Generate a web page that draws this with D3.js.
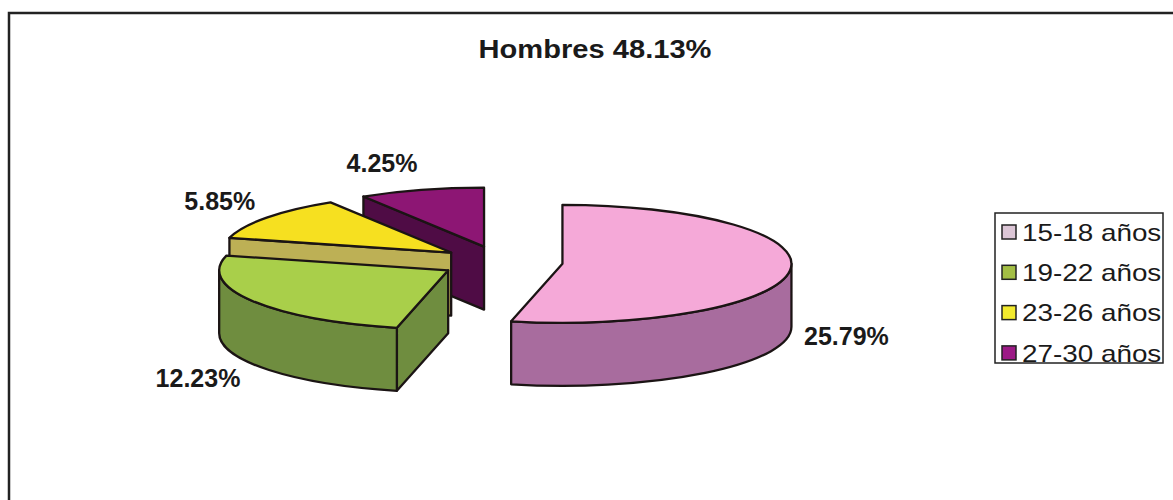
<!DOCTYPE html>
<html>
<head>
<meta charset="utf-8">
<script src="https://cdn.jsdelivr.net/npm/d3@7"></script>
<style>
  body { margin: 0; background: #fff; }
  svg text { font-family: "Liberation Sans", Arial, sans-serif; fill: #1a1a1a; }
</style>
</head>
<body>
<div id="chart"></div>
<script>
// data
const title = "Hombres 48.13%";
const categories = ["15-18 años", "19-22 años", "23-26 años", "27-30 años"];
const values = [25.79, 12.23, 5.85, 4.25];
const labels = ["25.79%", "12.23%", "5.85%", "4.25%"];

const topColors  = ["#f5a9d8", "#a9cf4a", "#f6e020", "#8d1674"];
const sideColors = ["#a86c9e", "#6f8d3f", "#bdb055", "#4f0c45"];
const keyColors  = ["#dcc6d6", "#a3be45", "#f2ea2e", "#9c1a86"];

const w = 1173, h = 500;
const cx = 501, cy = 262;      // pie centre
const rx = 229, ry = 59;       // ellipse radii of the top face
const depth = 63;              // thickness of the pie
const explode = 0.27;          // fraction of radius each slice is pulled out

const svg = d3.select("#chart").append("svg")
    .attr("width", w)
    .attr("height", h);

// outer frame (runs off the right and bottom like the scan)
svg.append("rect")
    .attr("x", 9).attr("y", 13)
    .attr("width", 1200).attr("height", 520)
    .attr("fill", "#fff")
    .attr("stroke", "#222")
    .attr("stroke-width", 2.5);

svg.append("text")
    .attr("transform", "translate(595,58) scale(1.12,1)")
    .attr("text-anchor", "middle")
    .attr("font-size", 26)
    .attr("font-weight", "bold")
    .text(title);

const pie = d3.pie().sort(null).value(d => d)(values);

function pt(c, a, s) {
    s = s || 1;
    return [c[0] + rx * s * Math.sin(a), c[1] - ry * s * Math.cos(a)];
}
function down(p) { return [p[0], p[1] + depth]; }
function f(p) { return p[0].toFixed(2) + "," + p[1].toFixed(2); }

let slices = pie.map((d, i) => {
    let mid = (d.startAngle + d.endAngle) / 2;
    let c = [cx + explode * rx * Math.sin(mid), cy - explode * ry * Math.cos(mid)];
    return {d: d, i: i, mid: mid, c: c};
});

// back slices first
slices.sort((a, b) => a.c[1] - b.c[1]);

const g = svg.append("g")
    .attr("stroke", "#1b1414")
    .attr("stroke-width", 2.3)
    .attr("stroke-linejoin", "round");

slices.forEach(s => {
    let a0 = s.d.startAngle, a1 = s.d.endAngle;
    let c = s.c;

    // cut faces that turn towards the viewer
    [[a0, Math.sin(a0) < -1e-6], [a1, Math.sin(a1) > 1e-6]].forEach(([a, vis]) => {
        if (!vis) return;
        let p = pt(c, a);
        g.append("path")
            .attr("d", "M" + f(c) + "L" + f(p) + "L" + f(down(p)) + "L" + f(down(c)) + "Z")
            .attr("fill", sideColors[s.i]);
    });

    // outer wall, only the part facing front (pi/2 .. 3pi/2)
    let b0 = Math.max(a0, Math.PI / 2), b1 = Math.min(a1, 3 * Math.PI / 2);
    if (b1 > b0) {
        let p0 = pt(c, b0), p1 = pt(c, b1);
        let large = (b1 - b0) > Math.PI ? 1 : 0;
        g.append("path")
            .attr("d", "M" + f(p0) +
                "A" + rx + "," + ry + " 0 " + large + " 1 " + f(p1) +
                "L" + f(down(p1)) +
                "A" + rx + "," + ry + " 0 " + large + " 0 " + f(down(p0)) + "Z")
            .attr("fill", sideColors[s.i]);
    }

    // top face
    let p0 = pt(c, a0), p1 = pt(c, a1);
    let large = (a1 - a0) > Math.PI ? 1 : 0;
    g.append("path")
        .attr("d", "M" + f(c) + "L" + f(p0) +
            "A" + rx + "," + ry + " 0 " + large + " 1 " + f(p1) + "Z")
        .attr("fill", topColors[s.i]);
});

// data labels outside the slices, the near edge of the text sits on a wider ellipse
const lrx = 305, lry = 103;
pie.forEach((d, i) => {
    let mid = (d.startAngle + d.endAngle) / 2;
    let sx = Math.sin(mid);
    let x = cx + lrx * sx;
    let y = cy - lry * Math.cos(mid) + (Math.cos(mid) < 0 ? depth : 0);
    svg.append("text")
        .attr("x", x).attr("y", y)
        .attr("dy", "0.35em")
        .attr("text-anchor", Math.abs(sx) < 0.1 ? "middle" : (sx > 0 ? "start" : "end"))
        .attr("font-size", 25)
        .attr("font-weight", "bold")
        .text(labels[i]);
});

// legend
const lg = svg.append("g").attr("transform", "translate(995,213)");
lg.append("rect")
    .attr("width", 168).attr("height", 150)
    .attr("fill", "#fff")
    .attr("stroke", "#222")
    .attr("stroke-width", 1.5);

categories.forEach((name, i) => {
    let row = lg.append("g").attr("transform", "translate(7," + (19 + i * 40.3) + ")");
    row.append("rect")
        .attr("x", 0).attr("y", -7)
        .attr("width", 14).attr("height", 14)
        .attr("fill", keyColors[i])
        .attr("stroke", "#222")
        .attr("stroke-width", 1.5);
    row.append("text")
        .attr("transform", "translate(20,0) scale(1.16,1)")
        .attr("dy", "0.36em")
        .attr("font-size", 24)
        .text(name);
});
</script>
</body>
</html>
